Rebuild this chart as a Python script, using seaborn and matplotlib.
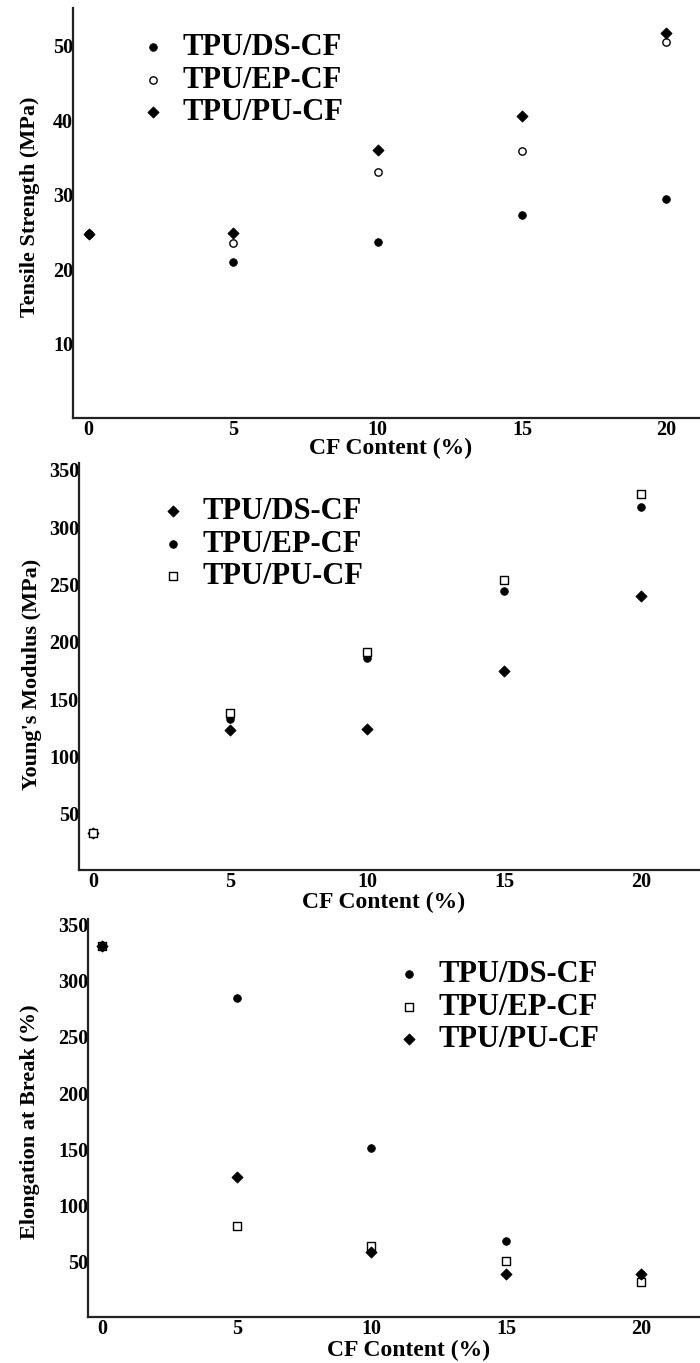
import numpy as np
import pandas as pd
import matplotlib
matplotlib.use("Agg")
import matplotlib.pyplot as plt
import seaborn as sns

sns.set_theme(style="white")
plt.rcParams['font.family'] = ['Liberation Serif', 'DejaVu Serif']
plt.rcParams['font.weight'] = 'bold'

# ---------------- data ----------------
cf_content = [0, 5, 10, 15, 20]
series_names = ["TPU/DS-CF", "TPU/EP-CF", "TPU/PU-CF"]

tensile_ds = [24.7, 20.9, 23.7, 27.3, 29.4]
tensile_ep = [24.7, 23.5, 33.1, 35.9, 50.5]
tensile_pu = [24.7, 24.8, 36.0, 40.6, 51.8]

modulus_ds = [33, 123.3, 124.4, 174.4, 240.4]
modulus_ep = [33, 133.1, 186.0, 244.5, 317.7]
modulus_pu = [33, 137.8, 191.3, 254.0, 329.4]

elong_ds = [331, 284.3, 151.5, 68.7, 38.7]
elong_ep = [331, 81.7, 64.2, 50.6, 32.2]
elong_pu = [331, 125.7, 58.6, 39.3, 38.7]

tensile_ticks = [10, 20, 30, 40, 50]
modulus_ticks = [50, 100, 150, 200, 250, 300, 350]
elong_ticks = [50, 100, 150, 200, 250, 300, 350]
x_ticks = [0, 5, 10, 15, 20]

# marker styles: (marker, size, filled)
FILLED_CIRCLE = ("o", 30, True)
OPEN_CIRCLE = ("o", 28, False)
DIAMOND = ("D", 32, True)
OPEN_SQUARE = ("s", 28, False)

W, H = 700, 1363
fig = plt.figure(figsize=(W / 100, H / 100), dpi=100)


def px_axes(left, top, right, bottom):
    return fig.add_axes([left / W, 1 - bottom / H, (right - left) / W, (bottom - top) / H])


panels = [
    dict(box=(73, 8, 700, 418), xlim=(-0.54, 21.16), ylim=(0, 55.1),
         ys=[tensile_ds, tensile_ep, tensile_pu],
         styles=[FILLED_CIRCLE, OPEN_CIRCLE, DIAMOND],
         yticks=tensile_ticks, ylabel="Tensile Strength (MPa)",
         ylab=(-0.053, 0.515), xlab=(0.506, -0.049),
         leg=(152, 47)),
    dict(box=(79, 463, 700, 870), xlim=(-0.51, 22.15), ylim=(1.1, 356),
         ys=[modulus_ds, modulus_ep, modulus_pu],
         styles=[DIAMOND, FILLED_CIRCLE, OPEN_SQUARE],
         yticks=modulus_ticks, ylabel="Young's Modulus (MPa)",
         ylab=(-0.060, 0.48), xlab=(0.49, -0.053),
         leg=(172, 511)),
    dict(box=(88, 919, 700, 1317), xlim=(-0.52, 22.2), ylim=(0.9, 354.8),
         ys=[elong_ds, elong_ep, elong_pu],
         styles=[FILLED_CIRCLE, OPEN_SQUARE, DIAMOND],
         yticks=elong_ticks, ylabel="Elongation at Break (%)",
         ylab=(-0.078, 0.49), xlab=(0.523, -0.058),
         leg=(408, 974)),
]

for p in panels:
    l, t, r, b = p["box"]
    ax = px_axes(l, t, r, b)
    for name, yv, (mk, sz, filled) in zip(series_names, p["ys"], p["styles"]):
        df = pd.DataFrame({"x": cf_content, "y": yv})
        sns.scatterplot(data=df, x="x", y="y", ax=ax, marker=mk, s=sz,
                        color="black",
                        facecolor="black" if filled else "white",
                        edgecolor="black", linewidth=1.0 if not filled else 0.6,
                        label=name, zorder=3)
    ax.set_xlim(*p["xlim"])
    ax.set_ylim(*p["ylim"])
    ax.set_xticks(x_ticks)
    ax.set_yticks(p["yticks"])
    ax.tick_params(axis="both", length=0, labelsize=14.5, colors="black")
    ax.tick_params(axis="x", pad=1.5)
    ax.tick_params(axis="y", pad=0)
    for lab in ax.get_xticklabels() + ax.get_yticklabels():
        lab.set_fontweight("bold")
    for s in ["top", "right"]:
        ax.spines[s].set_visible(False)
    for s in ["left", "bottom"]:
        ax.spines[s].set_color("#222222")
        ax.spines[s].set_linewidth(1.6)
    ax.grid(False)
    ax.set_facecolor("white")
    ax.set_xlabel("CF Content (%)", fontsize=17, fontweight="bold", color="black")
    ax.set_ylabel(p["ylabel"], fontsize=16, fontweight="bold", color="black")
    ax.yaxis.set_label_coords(*p["ylab"])
    ax.xaxis.set_label_coords(*p["xlab"])
    ax.xaxis.label.set_va("top")

    mx, my = p["leg"]
    lx = (mx - 8 - l) / (r - l)
    ly = (b - (my - 14)) / (b - t)
    leg = ax.legend(loc="upper left", bbox_to_anchor=(lx, ly), frameon=False,
                    prop={"family": "Liberation Serif", "weight": "bold", "size": 22},
                    handlelength=0.6, handletextpad=0.65, labelspacing=0.12,
                    borderpad=0, borderaxespad=0, markerscale=1.0)
    for txt in leg.get_texts():
        txt.set_color("black")

fig.savefig("out.png", dpi=100, facecolor="white")
